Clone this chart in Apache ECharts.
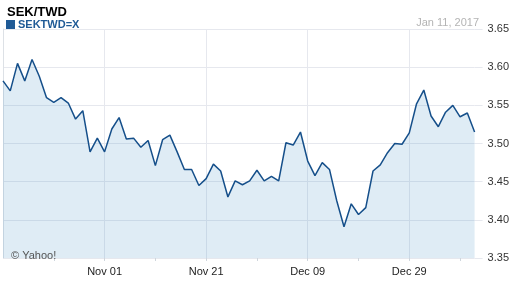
<!DOCTYPE html>
<html>
<head>
<meta charset="utf-8">
<script src="https://cdn.jsdelivr.net/npm/echarts@6/dist/echarts.min.js"></script>
<style>
html,body{margin:0;padding:0;background:#fff;}
#c{width:512px;height:288px;}
</style>
</head>
<body>
<div id="c"></div>
<script>
var dates = [
 "Oct 12","Oct 13","Oct 14","Oct 17","Oct 18","Oct 19","Oct 20","Oct 21","Oct 24","Oct 25","Oct 26","Oct 27","Oct 28","Oct 31",
 "Nov 01","Nov 02","Nov 03","Nov 04","Nov 07","Nov 08","Nov 09","Nov 10","Nov 11","Nov 14","Nov 15","Nov 16","Nov 17","Nov 18","Nov 21","Nov 22","Nov 23","Nov 24","Nov 25","Nov 28","Nov 29","Nov 30",
 "Dec 01","Dec 02","Dec 05","Dec 06","Dec 07","Dec 08","Dec 09","Dec 12","Dec 13","Dec 14","Dec 15","Dec 16","Dec 19","Dec 20","Dec 21","Dec 22","Dec 23","Dec 26","Dec 27","Dec 28","Dec 29","Dec 30",
 "Jan 02","Jan 03","Jan 04","Jan 05","Jan 06","Jan 09","Jan 10","Jan 11"
];
var rates = [
 3.582,3.569,3.605,3.582,3.610,3.588,3.560,3.554,3.560,3.553,3.532,3.543,3.489,3.507,
 3.489,3.519,3.534,3.506,3.507,3.495,3.504,3.471,3.505,3.511,3.489,3.466,3.466,3.445,3.454,3.473,3.464,3.430,3.451,3.446,3.451,3.465,
 3.451,3.457,3.451,3.501,3.498,3.515,3.477,3.458,3.475,3.466,3.425,3.391,3.421,3.407,3.416,3.464,3.472,3.488,3.500,3.499,3.514,3.552,
 3.570,3.536,3.522,3.541,3.550,3.535,3.540,3.515
];
var yTicks = [3.35, 3.40, 3.45, 3.50, 3.55, 3.60, 3.65];
var titleText = "SEK/TWD";
var seriesName = "SEKTWD=X";
var dateText = "Jan 11, 2017";

var chart = echarts.init(document.getElementById('c'), null, {renderer:'canvas'});
var F = 'Liberation Sans, Arial, sans-serif';
chart.setOption({
  animation:false,
  backgroundColor:'#fff',
  title:[
    {text:titleText, left:2, top:1, textStyle:{fontFamily:F, fontSize:13, fontWeight:'bold', color:'#000'}},
    {text:dateText, right:28, top:12, textStyle:{fontFamily:F, fontSize:11, fontWeight:'normal', color:'#b4b4b4'}},
    {text:'© Yahoo!', left:6, top:245, textStyle:{fontFamily:F, fontSize:11, fontWeight:'normal', color:'#555'}}
  ],
  legend:{
    left:1, top:14, itemWidth:9, itemHeight:9, itemGap:4,
    icon:'rect',
    textStyle:{fontFamily:F, fontSize:11, fontWeight:'bold', color:'#1f5a96', padding:[0,0,0,-2]},
    data:[{name:seriesName, itemStyle:{color:'#1f5a96'}}]
  },
  grid:{left:3, right:34.5, top:29, bottom:30},
  xAxis:{
    type:'category', data:dates, boundaryGap:false,
    axisLine:{show:false},
    axisTick:{show:true, length:3, lineStyle:{color:'#cfd6dd'},
      interval:function(i){return i%7===0 && i>0;}},
    axisLabel:{fontFamily:F, fontSize:11, color:'#222', margin:8,
      interval:function(i){return i%14===0 && i>0;}},
    splitLine:{show:true, lineStyle:{color:'#e6e8ee', width:1},
      interval:function(i){return i%14===0 && i>0;}}
  },
  yAxis:[{
    type:'value', position:'right', min:yTicks[0], max:yTicks[yTicks.length-1], interval:0.05,
    axisLine:{show:false},
    axisTick:{show:true, length:8, lineStyle:{color:'#e6e8ee'}},
    axisLabel:{fontFamily:F, fontSize:11, color:'#333', margin:13,
      formatter:function(v){return v.toFixed(2);}},
    splitLine:{show:true, lineStyle:{color:'#e6e8ee', width:1}}
  },{
    type:'value', position:'left', min:yTicks[0], max:yTicks[yTicks.length-1],
    axisLine:{show:true, lineStyle:{color:'#dde1e6'}},
    axisTick:{show:false}, axisLabel:{show:false}, splitLine:{show:false}
  }],
  series:[{
    name:seriesName, type:'line', data:rates, yAxisIndex:0,
    symbol:'none', smooth:false,
    lineStyle:{color:'#154f8a', width:1.5},
    itemStyle:{color:'#1a5590'},
    areaStyle:{color:'rgba(75,147,199,0.25)', origin:'start'}
  }]
});
</script>
</body>
</html>
